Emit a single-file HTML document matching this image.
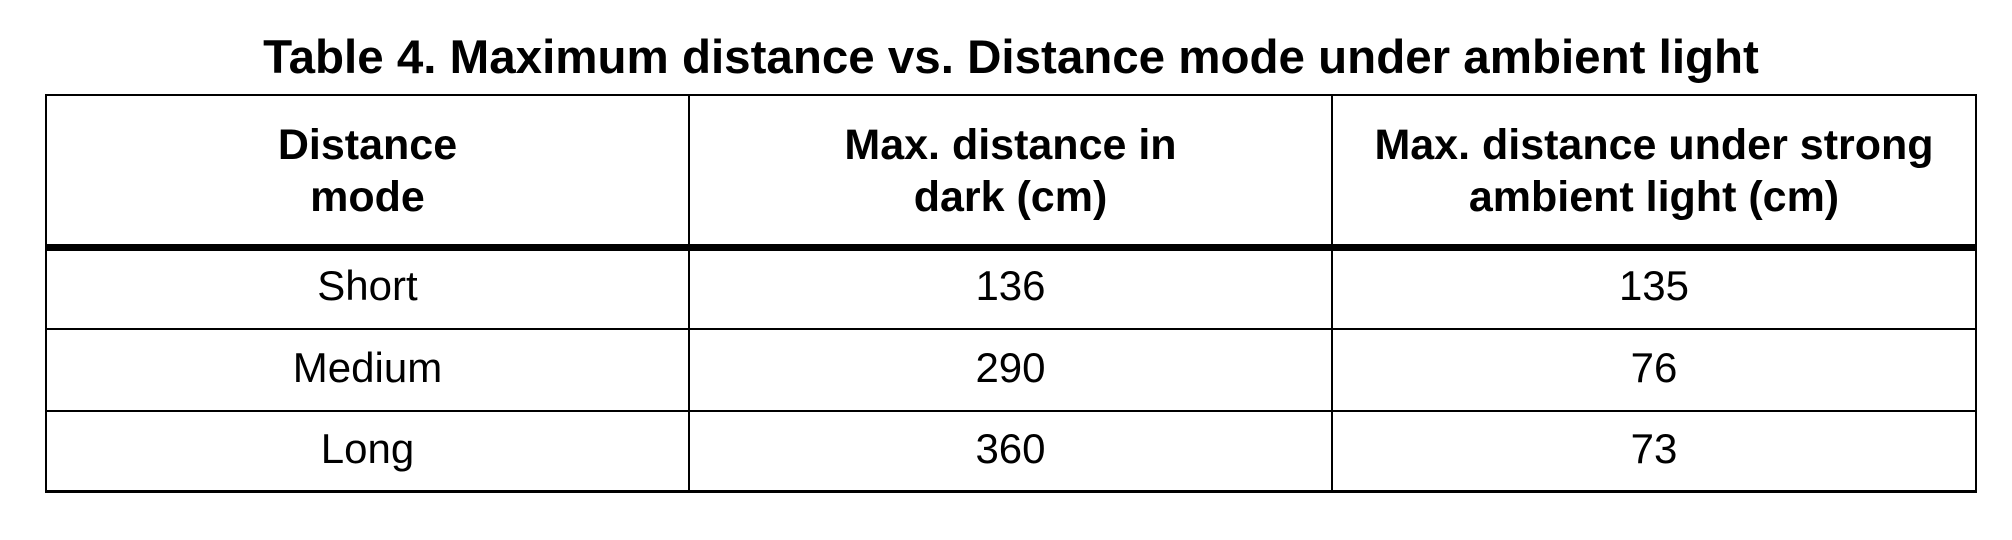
<!DOCTYPE html>
<html><head><meta charset="utf-8"><style>
html,body{margin:0;padding:0;background:#fff;}
body{width:2012px;height:540px;position:relative;overflow:hidden;font-family:"Liberation Sans",Arial,sans-serif;color:#000;}
#title{position:absolute;left:0;width:2022px;top:29px;text-align:center;font-weight:bold;font-size:47.5px;line-height:58px;}
.h{position:absolute;background:#000;}
.c{position:absolute;text-align:center;font-size:42px;line-height:52px;}
.b{font-weight:bold;font-size:43px;}
</style></head><body>
<div id="title">Table 4. Maximum distance vs. Distance mode under ambient light</div>
<div>
<div class="h" style="left:45px;top:94px;width:1932px;height:2px"></div>
<div class="h" style="left:45px;top:244px;width:1932px;height:7px"></div>
<div class="h" style="left:45px;top:328px;width:1932px;height:2px"></div>
<div class="h" style="left:45px;top:410px;width:1932px;height:2px"></div>
<div class="h" style="left:45px;top:490px;width:1932px;height:3px"></div>
<div class="h" style="left:45px;top:94px;width:2px;height:399px"></div>
<div class="h" style="left:688px;top:94px;width:2px;height:399px"></div>
<div class="h" style="left:1331px;top:94px;width:2px;height:399px"></div>
<div class="h" style="left:1975px;top:94px;width:2px;height:399px"></div>

<div class="c b" style="left:47px;width:641px;top:119px">Distance<br>mode</div>
<div class="c b" style="left:690px;width:641px;top:119px">Max. distance in<br>dark (cm)</div>
<div class="c b" style="left:1333px;width:642px;top:119px">Max. distance under strong<br>ambient light (cm)</div>

<div class="c" style="left:47px;width:641px;top:260px">Short</div>
<div class="c" style="left:690px;width:641px;top:260px">136</div>
<div class="c" style="left:1333px;width:642px;top:260px">135</div>

<div class="c" style="left:47px;width:641px;top:342px">Medium</div>
<div class="c" style="left:690px;width:641px;top:342px">290</div>
<div class="c" style="left:1333px;width:642px;top:342px">76</div>

<div class="c" style="left:47px;width:641px;top:423px">Long</div>
<div class="c" style="left:690px;width:641px;top:423px">360</div>
<div class="c" style="left:1333px;width:642px;top:423px">73</div>
</div>
</body></html>
